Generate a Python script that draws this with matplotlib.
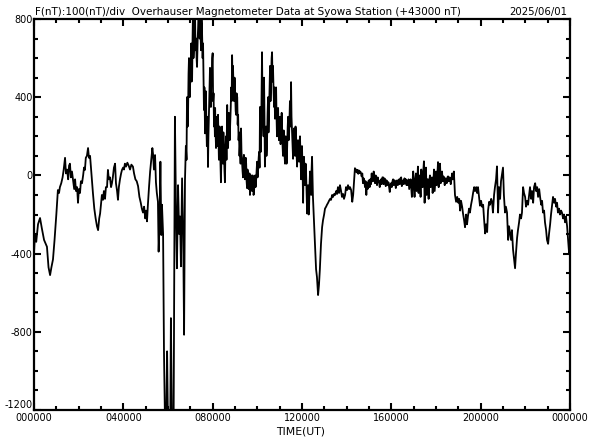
import matplotlib.pyplot as plt
from matplotlib.ticker import MultipleLocator

# hours (UT) and field deviation (nT, relative to 43000 nT)
t_morning = [0.00, 0.04, 0.10, 0.18, 0.27, 0.35, 0.45, 0.58, 0.65, 0.72,
             0.78, 0.85, 0.92, 1.00, 1.07, 1.12, 1.16, 1.22, 1.28, 1.33,
             1.39, 1.43, 1.48, 1.53, 1.57, 1.61, 1.65, 1.70, 1.75, 1.80,
             1.84, 1.88, 1.93, 1.97, 2.01, 2.06, 2.10, 2.15, 2.20, 2.24,
             2.28, 2.32, 2.37, 2.42, 2.46, 2.51, 2.57, 2.64, 2.70, 2.76,
             2.82, 2.87, 2.92, 2.96, 3.00, 3.04, 3.09, 3.13, 3.18, 3.22,
             3.27, 3.31, 3.35, 3.40, 3.45, 3.49, 3.53, 3.58, 3.63, 3.67,
             3.72, 3.76, 3.80, 3.85, 3.90, 3.94, 3.99, 4.03]
f_morning = [-400, -300, -340, -250, -218, -270, -330, -365, -470, -510,
             -470, -430, -330, -200, -75, -90, -60, -40, -10, 30,
             90, 10, 30, -20, 50, 60, -10, 20, -25, -70,
             -20, -80, -60, -140, -70, -90, -30, -40, 0, 40,
             28, 90, 100, 140, 90, 100, 10, -92, -170, -220,
             -260, -280, -220, -195, -150, -100, -125, -80, -120, -60,
             -60, 28, -20, -10, -60, -40, -10, 40, 60, -40,
             -80, -125, -60, -20, 10, 28, 40, 30]

t_onset = [4.07, 4.12, 4.18, 4.24, 4.30, 4.36, 4.43, 4.48, 4.54, 4.60,
           4.66, 4.72, 4.78, 4.83, 4.88, 4.93, 4.98, 5.02, 5.06, 5.10,
           5.15, 5.20, 5.25, 5.30, 5.33, 5.37, 5.42, 5.46, 5.50, 5.55,
           5.58, 5.62, 5.66, 5.70, 5.73, 5.78, 5.82, 5.87, 5.92, 5.96,
           6.00, 6.05, 6.10, 6.13, 6.18, 6.25, 6.31, 6.36, 6.40, 6.45,
           6.50, 6.54, 6.58, 6.63, 6.68, 6.72]
f_onset = [60, 45, 65, 50, 30, 55, 45, 10, -20, -30,
           -55, -110, -140, -170, -190, -160, -220, -180, -235, -150,
           -60, 20, 80, 140, 110, 30, 104, -35, -90, -135,
           -390, -250, 70, -305, -150, -300, -900, -1300, -1300, -900,
           -1300, -1300, -1300, -730, -1300, -1300, 300, -200, -475, -50,
           -300, -210, -465, -15, -300, -815]

t_main = [6.76, 6.78, 6.80, 6.83, 6.85, 6.88, 6.90, 6.92, 6.94, 6.97,
          6.99, 7.02, 7.04, 7.06, 7.08, 7.10, 7.12, 7.14, 7.16, 7.18,
          7.21, 7.23, 7.26, 7.28, 7.30, 7.33, 7.35, 7.37, 7.40, 7.42,
          7.43, 7.46, 7.48, 7.50, 7.52, 7.55, 7.57, 7.59, 7.61, 7.63,
          7.66, 7.68, 7.70, 7.72, 7.74, 7.77, 7.79, 7.81, 7.83, 7.86,
          7.88, 7.90, 7.92, 7.94, 7.96, 7.98, 8.00, 8.02, 8.04, 8.06,
          8.08, 8.10, 8.11, 8.13, 8.15, 8.18, 8.20, 8.22, 8.24, 8.26,
          8.28, 8.31, 8.33, 8.35, 8.37, 8.40, 8.42, 8.44, 8.46, 8.48,
          8.50, 8.53, 8.55, 8.57, 8.60, 8.62, 8.65, 8.67, 8.69, 8.72,
          8.74, 8.76, 8.78, 8.81, 8.83, 8.85, 8.87, 8.89, 8.91, 8.94,
          8.96, 8.98, 9.00, 9.03, 9.05, 9.07, 9.10, 9.12, 9.14, 9.16,
          9.18, 9.20, 9.22, 9.25, 9.27, 9.29, 9.31, 9.34, 9.36, 9.38,
          9.40, 9.43, 9.45, 9.48, 9.50, 9.52, 9.54, 9.56, 9.58, 9.61,
          9.63, 9.65, 9.67, 9.70, 9.72, 9.74, 9.76, 9.79, 9.81, 9.83,
          9.85, 9.88, 9.90, 9.92, 9.94, 9.97, 9.99, 10.01, 10.03, 10.06,
          10.08, 10.10, 10.12, 10.15, 10.17, 10.19, 10.21, 10.23, 10.25, 10.28,
          10.30, 10.32, 10.34, 10.37, 10.39, 10.41, 10.43, 10.46, 10.48, 10.50,
          10.52, 10.55, 10.57, 10.59, 10.61, 10.64, 10.66, 10.68, 10.70, 10.73,
          10.75, 10.77, 10.79, 10.82, 10.84, 10.86, 10.88, 10.91, 10.93, 10.95,
          10.97, 11.00, 11.02, 11.04, 11.06, 11.09, 11.11, 11.13, 11.15, 11.18,
          11.20, 11.22, 11.24, 11.27, 11.29, 11.31, 11.33, 11.36, 11.38, 11.40,
          11.42, 11.44, 11.46, 11.49, 11.51, 11.53, 11.55, 11.58, 11.60, 11.62,
          11.64, 11.67, 11.69, 11.71, 11.73, 11.76, 11.78, 11.80, 11.82, 11.85,
          11.87, 11.89, 11.91, 11.94, 11.96, 11.98, 12.00, 12.03, 12.05, 12.07,
          12.09, 12.12, 12.14, 12.16, 12.18, 12.21, 12.23, 12.25, 12.27, 12.30,
          12.32, 12.34, 12.36, 12.39, 12.41, 12.43, 12.45, 12.47, 12.49]
f_main = [-25, 60, 150, 80, 400, 250, 335, 520, 600, 400,
          470, 560, 675, 480, 500, 700, 850, 600, 650, 780,
          850, 640, 700, 600, 555, 700, 760, 850, 850, 700,
          820, 720, 640, 800, 760, 600, 675, 500, 335, 450,
          215, 330, 430, 250, 150, 300, 43, 200, 300, 450,
          550, 420, 350, 520, 480, 600, 625, 380, 420, 250,
          310, 200, 345, 220, 140, 280, 300, 150, 310, 180,
          80, 250, 200, 60, -35, 150, 250, 100, 60, 220,
          150, 20, -35, 120, 200, 80, 360, 200, 140, 320,
          300, 180, 250, 350, 450, 380, 615, 480, 560, 420,
          380, 500, 445, 330, 310, 420, 400, 260, 310, 180,
          220, 100, 150, 60, 240, 120, 80, 20, -10, 80,
          105, 0, -20, 90, 60, -30, -65, 30, 10, -70,
          -50, 10, -100, -30, 0, -60, -80, 0, -20, -100,
          -90, -10, 0, -60, -35, 30, 70, -10, 20, 90,
          120, 40, 350, 120, 200, 400, 630, 380, 300, 200,
          500, 300, 45, 180, 250, 100, 150, 320, 400, 220,
          300, 450, 560, 380, 450, 600, 630, 480, 560, 420,
          350, 450, 290, 380, 450, 300, 200, 300, 345, 220,
          180, 280, 300, 160, 200, 320, 240, 150, 100, 230,
          200, 100, 60, 200, 150, 60, 120, 250, 300, 180,
          200, 300, 380, 250, 477, 300, 240, 150, 85, 200,
          240, 150, 100, 250, 220, 100, 45, 150, 180, 90,
          70, 160, 200, 60, -20, 80, 150, 0, -140, 30,
          95, -20, -50, 60, 28, -100, -195, -60, -50, -200,
          -150, -40, 20, -60, -100, 30, 95, -20, -110]

t_recovery = [12.54, 12.58, 12.63, 12.67, 12.72, 12.76, 12.80, 12.85, 12.90, 12.94,
              12.99, 13.03, 13.08, 13.12, 13.17, 13.21, 13.26, 13.30, 13.35, 13.39,
              13.44, 13.48, 13.53, 13.57, 13.61, 13.66, 13.70, 13.75, 13.79, 13.84,
              13.88, 13.93, 13.97, 14.02, 14.06, 14.11, 14.15, 14.20, 14.25, 14.29]
f_recovery = [-250, -350, -480, -520, -612, -560, -480, -350, -265, -230,
              -200, -170, -160, -150, -140, -130, -120, -125, -100, -110,
              -95, -100, -80, -95, -60, -90, -50, -80, -110, -95,
              -120, -100, -60, -75, -50, -70, -60, -75, -135, -100]

t_quiet = [14.34, 14.37, 14.40, 14.43, 14.46, 14.49, 14.52, 14.55, 14.58, 14.61,
           14.64, 14.67, 14.70, 14.73, 14.76, 14.79, 14.82, 14.85, 14.88, 14.91,
           14.94, 14.97, 15.00, 15.03, 15.06, 15.09, 15.12, 15.15, 15.18, 15.21,
           15.24, 15.27, 15.30, 15.33, 15.36, 15.39, 15.42, 15.45, 15.48, 15.51,
           15.54, 15.57, 15.60, 15.63, 15.66, 15.69, 15.72, 15.75, 15.78, 15.81,
           15.84, 15.87, 15.90, 15.93, 15.96, 15.99, 16.02, 16.05, 16.08, 16.11,
           16.14, 16.17, 16.20, 16.23, 16.26, 16.29, 16.32, 16.35, 16.38, 16.41,
           16.44, 16.47, 16.50, 16.53, 16.56, 16.59, 16.62, 16.65, 16.68, 16.71,
           16.74, 16.77, 16.80, 16.83, 16.86, 16.89, 16.92, 16.95, 16.98, 17.01,
           17.04, 17.07, 17.10, 17.13, 17.16, 17.19, 17.22, 17.25, 17.28, 17.31,
           17.34, 17.37, 17.40, 17.43, 17.46, 17.49, 17.52, 17.55, 17.58, 17.61,
           17.64, 17.67, 17.70, 17.73, 17.76, 17.79, 17.82, 17.85, 17.88, 17.91,
           17.94, 17.97, 18.00, 18.03, 18.06, 18.09, 18.12, 18.15, 18.18, 18.21,
           18.24, 18.27, 18.30, 18.33, 18.36, 18.39, 18.42, 18.45, 18.48, 18.51,
           18.54, 18.57, 18.60, 18.63, 18.66, 18.69, 18.72, 18.75]
f_quiet = [-10, 37, 20, 30, 15, 28, 8, 25, 12, 20,
           12, -5, 10, -40, -15, -25, -60, -30, -100, -40,
           -70, -30, -25, -60, -20, -45, 10, -30, -30, 20,
           -10, -40, 0, -30, -50, -10, -35, -30, -60, -25,
           -20, -45, -10, -10, -45, -15, -20, -55, -25, -30,
           -50, -35, -60, -85, -45, -40, -60, -30, -20, -50,
           -25, -30, -65, -35, -25, -50, -30, -20, -45, -15,
           -10, -55, -30, -25, -45, -15, -40, -20, -50, -30,
           -50, -20, -70, -45, -20, -60, -110, -30, 20, -60,
           -110, -20, 10, -80, -40, 45, -90, 0, -20, -110,
           30, -60, -60, 20, 72, -140, -40, 40, -100, -20,
           -20, -120, -30, 0, -60, -20, -10, -90, -40, 30,
           -80, -30, 20, -50, 0, 68, -60, -10, 60, -40,
           0, 20, -30, -5, -10, -50, -15, -20, -40, -10,
           -5, -30, -10, -15, -45, -20, 10, -20]

t_evening = [18.80, 18.85, 18.90, 18.95, 19.00, 19.04, 19.08, 19.12, 19.17, 19.21,
             19.26, 19.30, 19.35, 19.39, 19.43, 19.48, 19.52, 19.57, 19.62, 19.66,
             19.71, 19.75, 19.80, 19.84, 19.88, 19.93, 19.97, 20.02, 20.06, 20.11,
             20.15, 20.20, 20.24, 20.29, 20.33, 20.38, 20.42, 20.47, 20.51, 20.55,
             20.60, 20.64, 20.69, 20.73, 20.78, 20.82, 20.87, 20.91, 20.96, 21.00,
             21.04, 21.09, 21.13, 21.18, 21.23, 21.27, 21.32, 21.36, 21.40, 21.45,
             21.50, 21.54, 21.58, 21.63, 21.67, 21.72, 21.76, 21.81, 21.85, 21.90,
             21.94, 21.99, 22.03, 22.08, 22.12, 22.17, 22.21, 22.26, 22.30, 22.35,
             22.39, 22.44, 22.48, 22.53, 22.57, 22.62, 22.66, 22.71, 22.75, 22.79,
             22.84, 22.88, 22.93, 22.97, 23.02, 23.06, 23.11, 23.15, 23.20, 23.24,
             23.29, 23.33, 23.38, 23.42, 23.46, 23.51, 23.55, 23.60, 23.64, 23.69,
             23.73, 23.78, 23.82, 23.87, 23.91, 23.96, 24.00]
f_evening = [20, -100, -135, -110, -140, -120, -180, -130, -160, -195,
             -230, -265, -200, -250, -210, -170, -190, -150, -120, -90,
             -60, -80, -60, -90, -60, -110, -155, -130, -160, -150,
             -220, -297, -250, -290, -180, -135, -150, -120, -135, -190,
             -100, -60, -20, 46, -190, -60, -120, -30, 10, 40,
             -100, -190, -160, -190, -330, -260, -300, -330, -280, -380,
             -430, -475, -400, -320, -280, -240, -200, -220, -190, -60,
             -90, -110, -160, -130, -150, -100, -60, -120, -80, -140,
             -60, -40, -80, -60, -110, -70, -110, -150, -130, -190,
             -180, -240, -280, -330, -350, -300, -250, -200, -150, -110,
             -140, -120, -160, -140, -190, -170, -200, -180, -190, -220,
             -200, -240, -210, -260, -320, -400, -350]

x_ticks = [0, 4, 8, 12, 16, 20, 24]
x_labels = ['000000', '040000', '080000', '120000', '160000', '200000', '000000']
y_ticks = [-1200, -800, -400, 0, 400, 800]

hours = t_morning + t_onset + t_main + t_recovery + t_quiet + t_evening
field = f_morning + f_onset + f_main + f_recovery + f_quiet + f_evening

fig = plt.figure(figsize=(5.92, 4.4), dpi=100)
ax = fig.add_axes([34 / 592, 30 / 440, 536 / 592, 391 / 440])

ax.plot(hours, field, color='black', linewidth=1.3)

ax.set_xlim(0, 24)
ax.set_ylim(-1200, 800)
ax.set_xticks(x_ticks)
ax.set_xticklabels(x_labels)
ax.set_yticks(y_ticks)
ax.set_yticklabels([str(v) for v in y_ticks])
ax.get_yticklabels()[0].set_va('bottom')
ax.xaxis.set_minor_locator(MultipleLocator(1))
ax.yaxis.set_minor_locator(MultipleLocator(100))

ax.tick_params(which='both', direction='in', top=True, right=True,
               width=1.5, colors='black', labelsize=7)
ax.tick_params(which='major', length=5)
ax.tick_params(which='minor', length=3)
ax.tick_params(axis='y', pad=1)
ax.tick_params(axis='x', pad=2.5)
for s in ax.spines.values():
    s.set_linewidth(1.6)

fig.text(35 / 592, 1 - 17 / 440, 'F(nT):100(nT)/div  Overhauser Magnetometer Data at Syowa Station (+43000 nT)',
         fontsize=7.5, va='bottom', ha='left')
fig.text(567 / 592, 1 - 17 / 440, '2025/06/01', fontsize=7.3, va='bottom', ha='right')
fig.text(301 / 592, 1 - 431 / 440, 'TIME(UT)', fontsize=7.8, va='center', ha='center')

plt.savefig('out.png', dpi=100)
